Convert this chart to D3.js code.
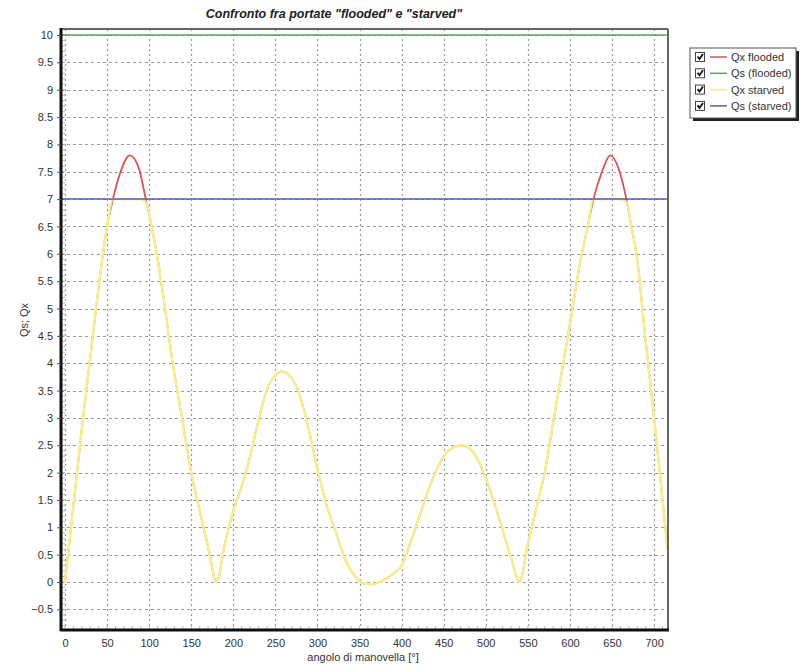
<!DOCTYPE html>
<html><head><meta charset="utf-8">
<script src="https://cdn.jsdelivr.net/npm/d3@7"></script>
<style>body{margin:0;background:#fff;} svg{display:block;}</style>
</head><body>
<svg id="c" width="807" height="665"></svg>
<script>
const angles = [0,10,20,30,40,50,57,65,77,88,96,103,109,118,128,139,150,160,170,180,190,200,210,220,230,240,250,258,265,277,287,301,310,321,335,345,356,365,380,390,400,410,420,430,440,450,460,472,480,490,500,510,520,530,540,550,560,570,581,592,602,611,621,628,638,648,658,667,673,679,690,700,710,716];
const qxFlooded = [0,1.4,2.8,4.1,5.4,6.5,7.0,7.45,7.8,7.55,7.0,6.5,6.0,5.1,4.0,3.0,2.0,1.3,0.65,0.0,0.7,1.3,1.75,2.3,2.96,3.52,3.78,3.85,3.8,3.5,2.96,2.0,1.45,0.95,0.34,0.1,-0.03,-0.04,0.05,0.15,0.3,0.7,1.15,1.6,2.0,2.3,2.45,2.5,2.45,2.25,1.9,1.45,0.95,0.45,0.0,0.7,1.35,2.0,3.0,4.0,4.9,5.75,6.5,7.0,7.5,7.8,7.55,7.0,6.5,6.0,4.4,3.0,1.5,0.6];
const qxStarved = [0,1.4,2.8,4.1,5.4,6.5,7.0,7.0,7.0,7.0,6.95,6.5,6.0,5.1,4.0,3.0,2.0,1.3,0.65,0.0,0.7,1.3,1.75,2.3,2.96,3.52,3.78,3.85,3.8,3.5,2.96,2.0,1.45,0.95,0.34,0.1,-0.03,-0.04,0.05,0.15,0.3,0.7,1.15,1.6,2.0,2.3,2.45,2.5,2.45,2.25,1.9,1.45,0.95,0.45,0.0,0.7,1.35,2.0,3.0,4.0,4.9,5.75,6.5,7.0,7.0,7.0,7.0,6.95,6.5,6.0,4.4,3.0,1.5,0.6];
const qsFlooded = 10;
const qsStarved = 7;
const xTicks = [0,50,100,150,200,250,300,350,400,450,500,550,600,650,700];
const yTicks = [-0.5,0,0.5,1,1.5,2,2.5,3,3.5,4,4.5,5,5.5,6,6.5,7,7.5,8,8.5,9,9.5,10];
const seriesNames = ["Qx flooded","Qs (flooded)","Qx starved","Qs (starved)"];
const seriesColors = ["#d9534f","#5ba55b","#f4f08c","#5b5bb0"];

const svg = d3.select("#c");
const L=61,R=668,T=29,B=630;
const x = d3.scaleLinear().domain([-4.75,716.5]).range([L,R]);
const y = d3.scaleLinear().domain([-0.877,10.11]).range([B,T]);
const font = "Liberation Sans, Arial, sans-serif";

// title
svg.append("text").attr("x",334).attr("y",18).attr("text-anchor","middle")
  .attr("font-family",font).attr("font-size",12.5).attr("font-weight","bold").attr("font-style","italic")
  .attr("fill","#222").text('Confronto fra portate "flooded" e "starved"');

const g = svg.append("g");
// grid
g.selectAll(".hg").data(yTicks).enter().append("line")
  .attr("x1",L).attr("x2",R).attr("y1",d=>Math.round(y(d))+0.5).attr("y2",d=>Math.round(y(d))+0.5)
  .attr("stroke","#9a9a9a").attr("stroke-width",1.2).attr("stroke-dasharray","3,3");
g.selectAll(".vg").data(xTicks).enter().append("line")
  .attr("y1",T).attr("y2",B).attr("x1",d=>Math.round(x(d))+0.5).attr("x2",d=>Math.round(x(d))+0.5)
  .attr("stroke","#9a9a9a").attr("stroke-width",1.2).attr("stroke-dasharray","2,3");

// minor ticks inside
const yMinor = d3.range(-8,101).map(d=>d/10);
g.selectAll(".ym").data(yMinor).enter().append("line")
  .attr("x1",L+1).attr("x2",L+4).attr("y1",d=>y(d)).attr("y2",d=>y(d)).attr("stroke","#aaa").attr("stroke-width",0.8);
const xMinor = d3.range(0,72).map(d=>d*10);
g.selectAll(".xm").data(xMinor).enter().append("line")
  .attr("y1",B-1).attr("y2",B-4).attr("x1",d=>x(d)).attr("x2",d=>x(d)).attr("stroke","#aaa").attr("stroke-width",0.8);

// series
const pts = (vals)=>angles.map((a,i)=>[a,vals[i]]);
const line = d3.line().x(d=>x(d[0])).y(d=>y(d[1])).curve(d3.curveMonotoneX);
svg.append("path").attr("d",line(pts(qxFlooded))).attr("fill","none").attr("stroke",seriesColors[0]).attr("stroke-width",1.8);
svg.append("line").attr("x1",L).attr("x2",R).attr("y1",y(qsFlooded)).attr("y2",y(qsFlooded)).attr("stroke",seriesColors[1]).attr("stroke-width",1.5);
svg.append("path").attr("d",line(pts(qxStarved))).attr("fill","none").attr("stroke",seriesColors[2]).attr("stroke-width",2.4);
svg.append("line").attr("x1",L).attr("x2",R).attr("y1",y(qsStarved)).attr("y2",y(qsStarved)).attr("stroke",seriesColors[3]).attr("stroke-width",1.5);

// frame
svg.append("line").attr("x1",L).attr("x2",R).attr("y1",T).attr("y2",T).attr("stroke","#666").attr("stroke-width",2);
svg.append("line").attr("x1",R).attr("x2",R).attr("y1",T).attr("y2",B).attr("stroke","#666").attr("stroke-width",2);
svg.append("line").attr("x1",L).attr("x2",L).attr("y1",T-1).attr("y2",B+1).attr("stroke","#111").attr("stroke-width",3);
svg.append("line").attr("x1",L-1).attr("x2",R+1).attr("y1",B).attr("y2",B).attr("stroke","#111").attr("stroke-width",3);

// axes tick labels
const ax = svg.append("g").attr("transform",`translate(0,${B})`)
  .call(d3.axisBottom(x).tickValues(xTicks).tickSize(0).tickPadding(9));
ax.select(".domain").remove();
ax.selectAll("text").attr("font-family",font).attr("font-size",11).attr("fill","#333");
const ay = svg.append("g").attr("transform",`translate(${L},0)`)
  .call(d3.axisLeft(y).tickValues(yTicks).tickSize(4).tickPadding(4).tickFormat(d3.format("")));
ay.select(".domain").remove();
ay.selectAll("line").attr("stroke","#555");
ay.selectAll("text").attr("font-family",font).attr("font-size",11).attr("fill","#333");

// axis titles
svg.append("text").attr("x",363).attr("y",661).attr("text-anchor","middle")
  .attr("font-family",font).attr("font-size",11).attr("fill","#333").text("angolo di manovella [°]");
svg.append("text").attr("transform","translate(28,320) rotate(-90)").attr("text-anchor","middle")
  .attr("font-family",font).attr("font-size",11).attr("fill","#333").text("Qs; Qx");

// legend
const lg = svg.append("g").attr("transform","translate(690,48)");
lg.append("rect").attr("x",3).attr("y",3).attr("width",106).attr("height",70).attr("fill","#222");
lg.append("rect").attr("x",0).attr("y",0).attr("width",106).attr("height",70).attr("fill","#fff").attr("stroke","#555").attr("stroke-width",1);
seriesNames.forEach((n,i)=>{
  const yy = 9+i*16.3;
  const row = lg.append("g").attr("transform",`translate(0,${yy})`);
  row.append("rect").attr("x",5.5).attr("y",-4.5).attr("width",9).attr("height",9).attr("fill","#fff").attr("stroke","#444").attr("stroke-width",1);
  row.append("path").attr("d","M7.5,-0.5 L9.5,2 L13,-3").attr("fill","none").attr("stroke","#111").attr("stroke-width",1.8);
  row.append("line").attr("x1",20).attr("x2",37).attr("y1",0).attr("y2",0).attr("stroke",seriesColors[i]).attr("stroke-width",1.5);
  row.append("text").attr("x",41).attr("y",4).attr("font-family",font).attr("font-size",11).attr("fill","#333").text(n);
});
</script>
</body></html>
